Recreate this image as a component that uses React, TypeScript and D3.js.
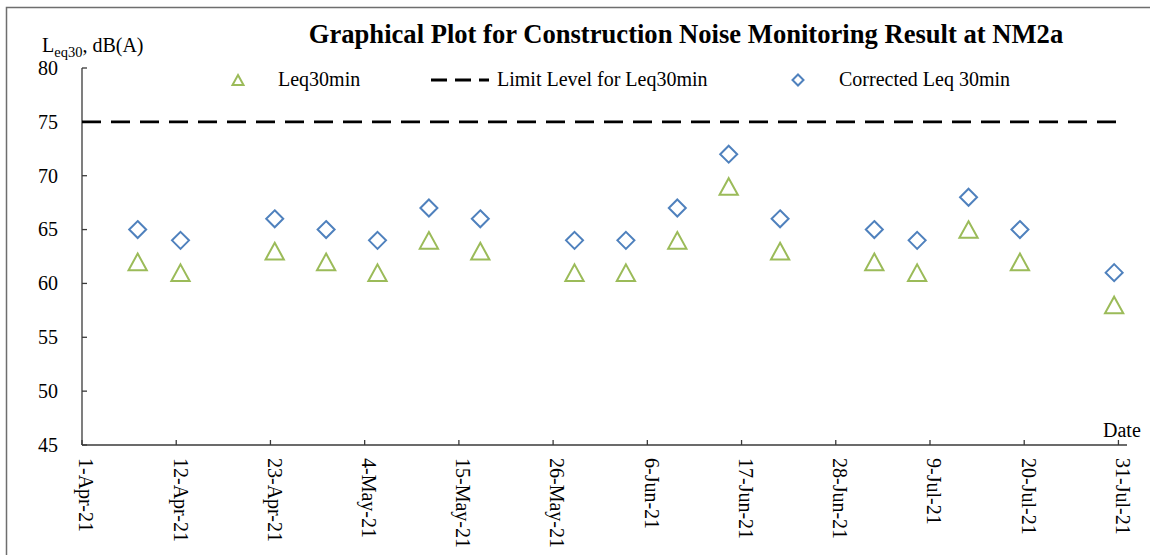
import React, { useRef, useEffect } from 'react'
import * as d3 from 'd3'

// monitoring dates (points sit at noon of each day)
const dates = [
  '2021-04-07', '2021-04-12', '2021-04-23', '2021-04-29', '2021-05-05', '2021-05-11',
  '2021-05-17', '2021-05-28', '2021-06-03', '2021-06-09', '2021-06-15', '2021-06-21',
  '2021-07-02', '2021-07-07', '2021-07-13', '2021-07-19', '2021-07-30',
]
const leq30 = [62, 61, 63, 62, 61, 64, 63, 61, 61, 64, 69, 63, 62, 61, 65, 62, 58]
const correctedLeq30 = [65, 64, 66, 65, 64, 67, 66, 64, 64, 67, 72, 66, 65, 64, 68, 65, 61]
const limitLevel = 75
const yTicks = [45, 50, 55, 60, 65, 70, 75, 80]

const title = 'Graphical Plot for Construction Noise Monitoring Result at NM2a'
const FONT = '"Times New Roman", "Liberation Serif", serif'
const GREEN = '#9BBB59'
const BLUE = '#4F81BD'

const width = 1150
const height = 555
const marginLeft = 82
const marginTop = 68
const plotRight = 1127
const plotBottom = 445

export default function App() {
  const svgRef = useRef(null)

  useEffect(() => {
    const parse = d3.utcParse('%Y-%m-%d')
    const data = dates.map((d, i) => ({
      date: d3.utcHour.offset(parse(d), 12),
      leq: leq30[i],
      corr: correctedLeq30[i],
    }))

    const start = parse('2021-04-01')
    const end = parse('2021-08-01')

    const xScale = d3.scaleUtc().domain([start, end]).range([marginLeft, plotRight])
    const yScale = d3.scaleLinear().domain([45, 80]).range([plotBottom, marginTop])

    const svg = d3.select(svgRef.current)
    svg.selectAll('*').remove()

    // outer frame (cut off on the right and bottom)
    svg.append('rect')
      .attr('x', 6.5).attr('y', 7.5)
      .attr('width', width + 20).attr('height', height + 20)
      .attr('fill', 'white')
      .attr('stroke', '#6e6e6e').attr('stroke-width', 1.5)

    // title
    svg.append('text')
      .attr('x', 686).attr('y', 43)
      .attr('text-anchor', 'middle')
      .attr('font-family', FONT).attr('font-weight', 'bold').attr('font-size', 26.6)
      .text(title)

    // y label with subscript
    const yLab = svg.append('text')
      .attr('x', 42).attr('y', 52)
      .attr('font-family', FONT).attr('font-size', 20)
    yLab.append('tspan').text('L')
    yLab.append('tspan').attr('font-size', 14.5).attr('dy', 5).text('eq30')
    yLab.append('tspan').attr('dy', -5).text(', dB(A)')

    // axes
    const axisColor = '#3a3a3a'
    svg.append('line')
      .attr('x1', marginLeft).attr('x2', marginLeft)
      .attr('y1', marginTop).attr('y2', plotBottom)
      .attr('stroke', axisColor).attr('stroke-width', 1.3)
    svg.append('line')
      .attr('x1', marginLeft).attr('x2', plotRight)
      .attr('y1', plotBottom).attr('y2', plotBottom)
      .attr('stroke', axisColor).attr('stroke-width', 1.3)

    const yTick = svg.append('g').selectAll('g')
      .data(yTicks)
      .join('g')
      .attr('transform', d => `translate(${marginLeft},${yScale(d)})`)
    yTick.append('line')
      .attr('x1', 0).attr('x2', 5)
      .attr('stroke', axisColor).attr('stroke-width', 1.3)
    yTick.append('text')
      .attr('x', -24).attr('dy', '0.34em')
      .attr('text-anchor', 'end')
      .attr('font-family', FONT).attr('font-size', 20)
      .text(d => d)

    const xTicks = d3.utcDay.range(start, end, 11)
    const fmt = d3.utcFormat('%-d-%b-%y')
    const xTick = svg.append('g').selectAll('g')
      .data(xTicks)
      .join('g')
      .attr('transform', d => `translate(${xScale(d)},${plotBottom})`)
    xTick.append('line')
      .attr('y1', 0).attr('y2', -5)
      .attr('stroke', axisColor).attr('stroke-width', 1.3)
    xTick.append('text')
      .attr('transform', 'translate(0,13) rotate(90)')
      .attr('dy', '0.13em')
      .attr('font-family', FONT).attr('font-size', 20)
      .text(d => fmt(d))

    svg.append('text')
      .attr('x', 1103).attr('y', 437)
      .attr('font-family', FONT).attr('font-size', 20)
      .text('Date')

    // limit line
    svg.append('line')
      .attr('x1', marginLeft).attr('x2', xScale(d3.utcDay.offset(end, -1)))
      .attr('y1', yScale(limitLevel)).attr('y2', yScale(limitLevel))
      .attr('stroke', 'black').attr('stroke-width', 2.8)
      .attr('stroke-dasharray', '19,10')

    const triangle = (s) => `M0,${-s}L${s * 1.1},${s}L${-s * 1.1},${s}Z`
    const diamond = (s) => `M0,${-s}L${s},0L0,${s}L${-s},0Z`

    // Leq30min triangles
    svg.append('g').selectAll('path')
      .data(data)
      .join('path')
      .attr('transform', d => `translate(${xScale(d.date)},${yScale(d.leq)})`)
      .attr('d', triangle(8.3))
      .attr('fill', 'none').attr('stroke', GREEN).attr('stroke-width', 2)

    // corrected diamonds
    svg.append('g').selectAll('path')
      .data(data)
      .join('path')
      .attr('transform', d => `translate(${xScale(d.date)},${yScale(d.corr)})`)
      .attr('d', diamond(8.5))
      .attr('fill', 'none').attr('stroke', BLUE).attr('stroke-width', 2)

    // legend
    const legendY = 80
    svg.append('path')
      .attr('transform', `translate(238,${legendY})`)
      .attr('d', triangle(5))
      .attr('fill', 'none').attr('stroke', GREEN).attr('stroke-width', 2)
    svg.append('text')
      .attr('x', 278).attr('y', legendY).attr('dy', '0.32em')
      .attr('font-family', FONT).attr('font-size', 20)
      .text('Leq30min')

    svg.append('line')
      .attr('x1', 431).attr('x2', 489)
      .attr('y1', legendY).attr('y2', legendY)
      .attr('stroke', 'black').attr('stroke-width', 2.8)
      .attr('stroke-dasharray', '16,8')
    svg.append('text')
      .attr('x', 497).attr('y', legendY).attr('dy', '0.32em')
      .attr('font-family', FONT).attr('font-size', 20)
      .text('Limit Level for Leq30min')

    svg.append('path')
      .attr('transform', `translate(798,${legendY})`)
      .attr('d', diamond(5.5))
      .attr('fill', 'none').attr('stroke', BLUE).attr('stroke-width', 2)
    svg.append('text')
      .attr('x', 839).attr('y', legendY).attr('dy', '0.32em')
      .attr('font-family', FONT).attr('font-size', 20)
      .text('Corrected Leq 30min')
  }, [])

  return (
    <div style={{ position: 'absolute', left: 0, top: 0 }}>
      <svg ref={svgRef} width={width} height={height} style={{ display: 'block' }}></svg>
    </div>
  )
}
